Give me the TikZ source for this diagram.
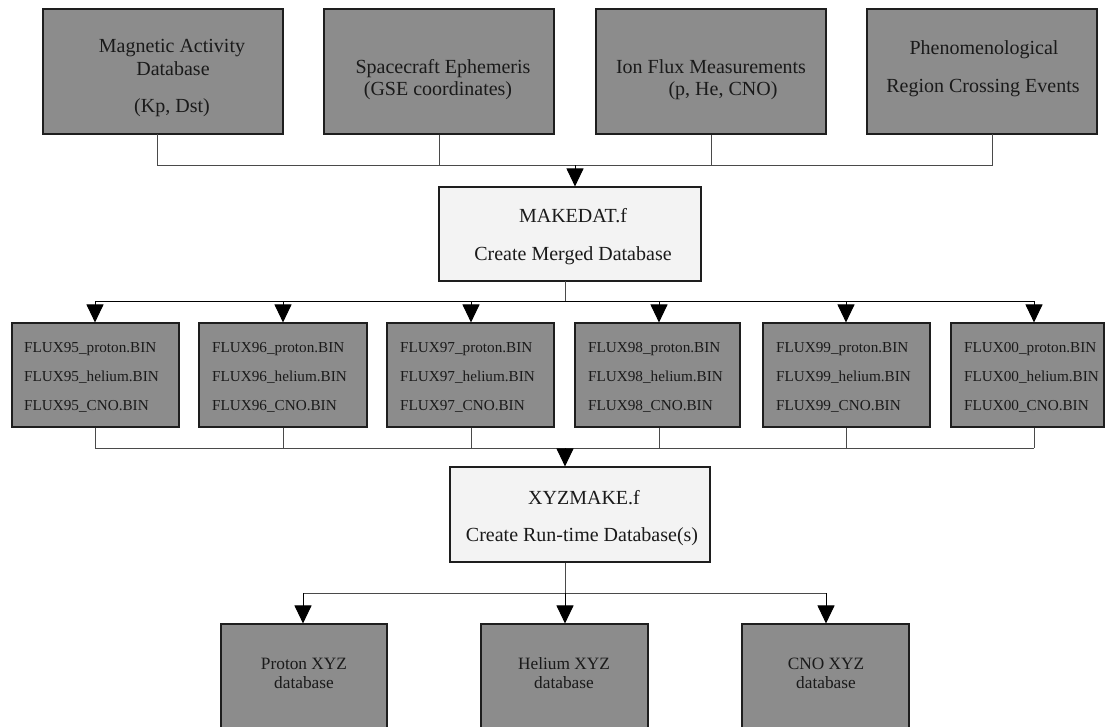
\documentclass[tikz,border=0pt]{standalone}
\usepackage{fontspec}
\setmainfont{Liberation Serif}
\usetikzlibrary{arrows.meta}
\definecolor{boxdark}{HTML}{8C8C8C}
\definecolor{boxlight}{HTML}{F3F3F3}
\definecolor{edge}{HTML}{1E1E1E}
\definecolor{wire}{HTML}{4A4A4A}
\definecolor{ink}{HTML}{1A1A1A}
\begin{document}
\begin{tikzpicture}[x=1pt,y=-1pt,
  darkbox/.style={rectangle,draw=edge,fill=boxdark,line width=1.1pt,inner sep=0pt},
  lightbox/.style={rectangle,draw=edge,fill=boxlight,line width=1.1pt,inner sep=0pt},
  conn/.style={draw=wire,line width=1pt},
  arr/.style={draw=black,line width=1pt,-{Triangle[length=18pt,width=17pt]}},
  bigtxt/.style={font=\fontsize{20}{24}\selectfont,text=ink,inner sep=0pt,anchor=base},
  midtxt/.style={font=\fontsize{17.3}{20}\selectfont,text=ink,inner sep=0pt,anchor=base},
  smalltxt/.style={font=\fontsize{15.2}{18}\selectfont,text=ink,inner sep=0pt,anchor=base west}]
\useasboundingbox[fill=white] (0,0) rectangle (1106,726);

% ---- top source boxes
\node[darkbox,minimum width=240,minimum height=125] (b1) at (163,71.5) {};
\node[darkbox,minimum width=230,minimum height=125] (b2) at (439,71.5) {};
\node[darkbox,minimum width=230,minimum height=125] (b3) at (711,71.5) {};
\node[darkbox,minimum width=230,minimum height=125] (b4) at (982,71.5) {};
\node[bigtxt] (b1a) at (172,52) {Magnetic Activity};
\node[bigtxt] (b1b) at (173,75) {Database};
\node[bigtxt] (b1c) at (172,112) {(Kp, Dst)};
\node[bigtxt] (b2a) at (443,73) {Spacecraft Ephemeris};
\node[bigtxt] (b2b) at (438,95) {(GSE coordinates)};
\node[bigtxt] (b3a) at (711,73) {Ion Flux Measurements};
\node[bigtxt] (b3b) at (723,95) {(p, He, CNO)};
\node[bigtxt] (b4a) at (984,54) {Phenomenological};
\node[bigtxt] (b4b) at (983,92) {Region Crossing Events};

% ---- MAKEDAT
\node[lightbox,minimum width=262,minimum height=94] (mk) at (570,234) {};
\node[bigtxt] (mka) at (573,222) {MAKEDAT.f};
\node[bigtxt] (mkb) at (573,260) {Create Merged Database};

% ---- flux boxes
\node[darkbox,minimum width=167,minimum height=104] (f1) at (95.5,375) {};
\node[darkbox,minimum width=168,minimum height=104] (f2) at (283,375) {};
\node[darkbox,minimum width=167,minimum height=104] (f3) at (470.5,375) {};
\node[darkbox,minimum width=165,minimum height=104] (f4) at (657.5,375) {};
\node[darkbox,minimum width=167,minimum height=104] (f5) at (846.5,375) {};
\node[darkbox,minimum width=153,minimum height=104] (f6) at (1027.5,375) {};
\foreach \n/\yr/\xl in {1/95/24,2/96/212,3/97/400,4/98/588,5/99/776,6/00/964}{
  \node[smalltxt] (f\n a) at (\xl,352) {FLUX\yr\_proton.BIN};
  \node[smalltxt] (f\n b) at (\xl,381) {FLUX\yr\_helium.BIN};
  \node[smalltxt] (f\n c) at (\xl,410) {FLUX\yr\_CNO.BIN};
}

% ---- XYZMAKE
\node[lightbox,minimum width=260,minimum height=95] (xm) at (580,514.5) {};
\node[bigtxt] (xma) at (584,504) {XYZMAKE.f};
\node[bigtxt] (xmb) at (582,541) {Create Run-time Database(s)};

% ---- output boxes
\node[darkbox,minimum width=166,minimum height=120] (o1) at (304,684) {};
\node[darkbox,minimum width=167,minimum height=120] (o2) at (564.5,684) {};
\node[darkbox,minimum width=167,minimum height=120] (o3) at (825.5,684) {};
\node[midtxt] (o1a) at (304,669) {Proton XYZ};
\node[midtxt] (o1b) at (304,688) {database};
\node[midtxt] (o2a) at (564,669) {Helium XYZ};
\node[midtxt] (o2b) at (564,688) {database};
\node[midtxt] (o3a) at (826,669) {CNO XYZ};
\node[midtxt] (o3b) at (826,688) {database};

% ---- connectors: sources -> MAKEDAT
\coordinate (bus1) at (575,165);
\coordinate (s1) at (157,134);
\coordinate (s4) at (992,134);
\draw[conn] (s1) |- (s4 |- bus1) -- (s4);
\draw[conn] (b2.south) -- (b2.south |- bus1);
\draw[conn] (b3.south) -- (b3.south |- bus1);
\draw[arr] (bus1) -- (bus1 |- mk.north);

% ---- MAKEDAT -> flux files
\coordinate (mks) at (565,281);
\coordinate (bus2) at (565,301);
\coordinate (c1) at (95,301);
\coordinate (c2) at (283,301);
\coordinate (c3) at (471,301);
\coordinate (c4) at (659,301);
\coordinate (c5) at (846,301);
\coordinate (c6) at (1034,301);
\draw[conn] (mks) -- (bus2);
\draw[draw=black,line width=1pt] (c1) -- (c6);
\foreach \n in {1,...,6}{
  \draw[arr] (c\n) -- (c\n |- f\n.north);
}

% ---- flux files -> XYZMAKE
\coordinate (bus3) at (565,448);
\draw[conn] (c1 |- bus3) -- (c6 |- bus3);
\foreach \n in {1,...,6}{
  \draw[conn] (c\n |- f\n.south) -- (c\n |- bus3);
}
\draw[arr] (bus3) -- (bus3 |- xm.north);

% ---- XYZMAKE -> outputs
\coordinate (bus4) at (565,593);
\coordinate (d1) at (303,593);
\coordinate (d3) at (826,593);
\draw[conn] (bus4 |- xm.south) -- (bus4);
\draw[conn] (d1) -- (d3);
\draw[arr] (d1) -- (d1 |- o1.north);
\draw[arr] (bus4) -- (bus4 |- o2.north);
\draw[arr] (d3) -- (d3 |- o3.north);
\end{tikzpicture}
\end{document}
